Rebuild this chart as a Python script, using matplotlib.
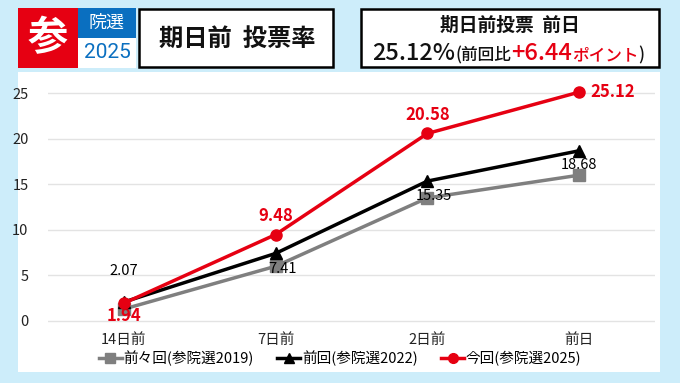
import matplotlib
matplotlib.use("Agg")
import matplotlib.pyplot as plt
from matplotlib.patches import Rectangle
from matplotlib.lines import Line2D

plt.rcParams["font.family"] = ["Noto Sans CJK JP", "DejaVu Sans"]

# data
categories = ["14日前", "7日前", "2日前", "前日"]
rate_2019 = [1.3, 6.0, 13.5, 16.0]
rate_2022 = [2.07, 7.41, 15.35, 18.68]
rate_2025 = [1.94, 9.48, 20.58, 25.12]
series_names = ["前々回(参院選2019)", "前回(参院選2022)", "今回(参院選2025)"]
y_ticks = [0, 5, 10, 15, 20, 25]

W, H = 680, 383
BG = "#cdedfa"
RED = "#e60012"
BLUE = "#0a6fc0"

fig = plt.figure(figsize=(W / 100, H / 100), dpi=100)
fig.patch.set_facecolor(BG)


def px(x, y):
    """pixel (from top-left) -> figure fraction"""
    return x / W, 1 - y / H


def box(x0, y0, x1, y1, **kw):
    fx, fy = px(x0, y1)
    r = Rectangle((fx, fy), (x1 - x0) / W, (y1 - y0) / H,
                  transform=fig.transFigure, **kw)
    fig.add_artist(r)


# white panel (behind the axes)
box(18, 72, 660, 372, facecolor="white", edgecolor="none", zorder=-10)

# header badges
box(18, 8, 78, 68, facecolor=RED, edgecolor="none")
box(78, 8, 136, 38, facecolor=BLUE, edgecolor="none")
box(78, 38, 136, 68, facecolor="white", edgecolor="none")
box(139, 9, 333, 67, facecolor="white", edgecolor="black", linewidth=1.8)
box(361, 9, 659, 67, facecolor="white", edgecolor="black", linewidth=1.8)

fig.text(*px(48, 39), "参", color="white", fontsize=29, fontweight="bold",
         ha="center", va="center")
fig.text(*px(107, 23), "院選", color="white", fontsize=13,
         ha="center", va="center")
fig.text(*px(107, 53), "2025", color=BLUE, fontsize=15,
         ha="center", va="center", family="Roboto")
fig.text(*px(237, 39), "期日前  投票率", color="#111111", fontsize=17.5,
         fontweight="bold", ha="center", va="center")
fig.text(*px(510, 25), "期日前投票  前日", color="#111111", fontsize=13.5,
         fontweight="bold", ha="center", va="center")

# second line of the right box, built from chained pieces
pieces = [("25.12%", "#111111", 17), ("(前回比", "#111111", 12),
          ("+6.44", RED, 17), ("ポイント", RED, 12), (")", "#111111", 12)]
texts = [fig.text(*px(372, 60), s, color=c, fontsize=fs, va="baseline",
                  fontweight="medium")
         for s, c, fs in pieces]
fig.canvas.draw()
r = fig.canvas.get_renderer()
x = texts[0].get_window_extent(r).x1
ybase = texts[0].get_position()[1]
for t in texts[1:]:
    t.set_position((x / W, ybase))
    x = t.get_window_extent(r).x1

# chart
ax = fig.add_axes([48 / W, (H - 330) / H, (655 - 48) / W, 255 / H])
ax.set_facecolor("white")
ax.set_xlim(-0.5, 3.5)
ax.set_ylim(-1, 27)
xs = range(len(categories))

ax.plot(xs, rate_2019, color="#7f7f7f", linewidth=2.5, marker="s",
        markersize=8, zorder=3)
ax.plot(xs, rate_2022, color="black", linewidth=2.5, marker="^",
        markersize=8, zorder=4)
ax.plot(xs, rate_2025, color=RED, linewidth=2.5, marker="o",
        markersize=8, zorder=5)

ax.set_yticks(y_ticks)
ax.set_xticks(list(xs))
ax.set_xticklabels(categories)
ax.grid(axis="y", color="#e3e3e3", linewidth=1)
ax.set_axisbelow(True)
for s in ax.spines.values():
    s.set_visible(False)
ax.tick_params(length=0, labelsize=10.5, colors="#222222")
ax.tick_params(axis="y", pad=14)
ax.tick_params(axis="x", pad=2)

# value labels
ax.annotate(f"{rate_2022[0]:.2f}", (0, rate_2022[0]), xytext=(0, 17),
            textcoords="offset points", ha="center", va="bottom", fontsize=10.5)
for i in (1, 2):
    ax.annotate(f"{rate_2022[i]:.2f}", (i, rate_2022[i]), xytext=(5, -6),
                textcoords="offset points", ha="center", va="top", fontsize=10.5,
                zorder=6)
ax.annotate(f"{rate_2022[3]:.2f}", (3, rate_2022[3]), xytext=(0, -5),
            textcoords="offset points", ha="center", va="top", fontsize=10.5,
            zorder=6)

ax.annotate(f"{rate_2025[0]:.2f}", (0, rate_2025[0]), xytext=(0, -3),
            textcoords="offset points", ha="center", va="top", fontsize=12,
            color=RED, fontweight="bold")
for i in (1, 2):
    ax.annotate(f"{rate_2025[i]:.2f}", (i, rate_2025[i]), xytext=(0, 7),
                textcoords="offset points", ha="center", va="bottom",
                fontsize=12, color=RED, fontweight="bold")
ax.annotate(f"{rate_2025[3]:.2f}", (3, rate_2025[3]), xytext=(8, 0),
            textcoords="offset points", ha="left", va="center",
            fontsize=12, color=RED, fontweight="bold")

handles = [
    Line2D([], [], color="#7f7f7f", linewidth=2.5, marker="s", markersize=7),
    Line2D([], [], color="black", linewidth=2.5, marker="^", markersize=7),
    Line2D([], [], color=RED, linewidth=2.5, marker="o", markersize=7),
]
fig.legend(handles, series_names, loc="center", bbox_to_anchor=px(340, 358),
           ncol=3, frameon=False, fontsize=10.5, handlelength=1.6,
           handletextpad=0.1, columnspacing=1.6)

fig.savefig("out.png", dpi=100, facecolor=BG)
